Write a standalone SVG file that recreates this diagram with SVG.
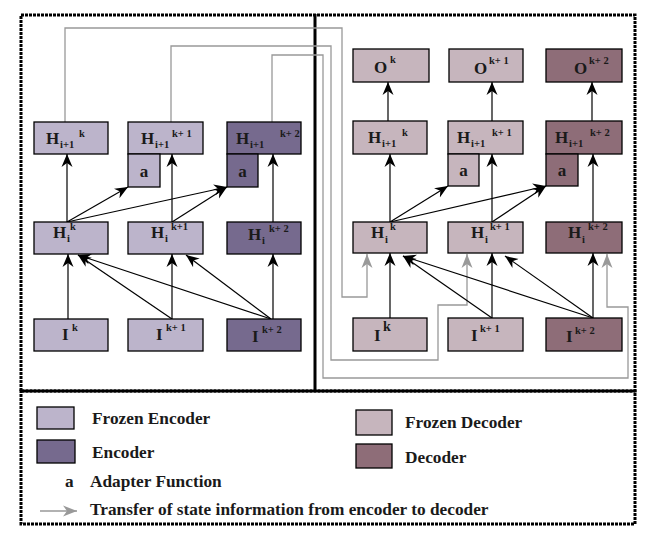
<svg xmlns="http://www.w3.org/2000/svg" width="654" height="540" viewBox="0 0 654 540">
  <defs>
    <marker id="ah" markerUnits="userSpaceOnUse" markerWidth="14" markerHeight="12" viewBox="0 0 14 12" refX="13" refY="6" orient="auto">
      <path d="M0,0.5 L13,6 L0,11.5 L4,6 Z" fill="#000"/>
    </marker>
    <marker id="ahg" markerUnits="userSpaceOnUse" markerWidth="15" markerHeight="12" viewBox="0 0 15 12" refX="14" refY="6" orient="auto">
      <path d="M0,0.5 L14,6 L0,11.5 L4,6 Z" fill="#999"/>
    </marker>
    <style>
      .fe { fill: #bcb4cb; stroke: #000; stroke-width: 1.3; }
      .en { fill: #766a8e; stroke: #000; stroke-width: 1.3; }
      .fd { fill: #c6b5bd; stroke: #000; stroke-width: 1.3; }
      .de { fill: #8e6d78; stroke: #000; stroke-width: 1.3; }
      text { font-family: "Liberation Serif", "DejaVu Serif", serif; fill: #1a1a1a; }
      .m { font-size: 17px; font-weight: bold; }
      .s { font-size: 10.5px; font-weight: bold; }
      .lg { font-size: 17.3px; font-weight: bold; }
      .arr { stroke: #000; stroke-width: 1.2; fill: none; marker-end: url(#ah); }
      .tr { stroke: #999; stroke-width: 1.3; fill: none; marker-end: url(#ahg); }
      .frame { fill: none; stroke: #000; stroke-width: 3; stroke-dasharray: 3 1; }
    </style>
  </defs>

  <rect width="654" height="540" fill="#fff"/>

  <!-- frames -->
  <rect class="frame" x="21" y="15" width="614" height="376"/>
  <rect class="frame" x="21" y="391" width="614" height="133" stroke-width="2" stroke-dasharray="4 1"/>
  <line x1="315" y1="14" x2="315" y2="391" stroke="#000" stroke-width="3"/>

  <!-- state transfer lines (encoder to decoder) -->
  <g id="transfer">
    <path class="tr" d="M65,122 V28 H342 V297 H367 V254"/>
    <path class="tr" d="M171,122 V46 H331 V360 H438 V305 H467 V254"/>
    <path class="tr" d="M272,122 V55 H323 V378 H628 V307 H607 V254"/>
  </g>

  <!-- connectors -->
  <g id="connectors">
    <!-- encoder -->
    <line class="arr" x1="68" y1="319" x2="68" y2="254"/>
    <line class="arr" x1="172" y1="319" x2="172" y2="254"/>
    <line class="arr" x1="273" y1="319" x2="273" y2="254"/>
    <line class="arr" x1="172" y1="319" x2="78" y2="255"/>
    <line class="arr" x1="271" y1="319" x2="78" y2="255"/>
    <line class="arr" x1="271" y1="319" x2="186" y2="255"/>
    <line class="arr" x1="67" y1="222" x2="67" y2="154"/>
    <line class="arr" x1="172" y1="222" x2="172" y2="154"/>
    <line class="arr" x1="273" y1="222" x2="273" y2="154"/>
    <line class="arr" x1="67" y1="222" x2="128" y2="187"/>
    <line class="arr" x1="67" y1="222" x2="227" y2="187"/>
    <line class="arr" x1="172" y1="222" x2="227" y2="187"/>
    <!-- decoder -->
    <line class="arr" x1="388" y1="121" x2="388" y2="82"/>
    <line class="arr" x1="492" y1="121" x2="492" y2="82"/>
    <line class="arr" x1="592" y1="121" x2="592" y2="82"/>
    <line class="arr" x1="390" y1="222" x2="390" y2="154"/>
    <line class="arr" x1="492" y1="222" x2="492" y2="154"/>
    <line class="arr" x1="593" y1="222" x2="593" y2="154"/>
    <line class="arr" x1="390" y1="222" x2="448" y2="186"/>
    <line class="arr" x1="390" y1="222" x2="546" y2="186"/>
    <line class="arr" x1="492" y1="222" x2="546" y2="186"/>
    <line class="arr" x1="390" y1="318" x2="390" y2="253"/>
    <line class="arr" x1="492" y1="318" x2="492" y2="253"/>
    <line class="arr" x1="593" y1="318" x2="593" y2="253"/>
    <line class="arr" x1="492" y1="318" x2="403" y2="256"/>
    <line class="arr" x1="593" y1="318" x2="403" y2="256"/>
    <line class="arr" x1="593" y1="318" x2="505" y2="256"/>
  </g>

  <!-- encoder nodes -->
  <g id="enc-h1-k"><rect class="fe" x="34" y="122" width="74" height="32"/>
    <text class="m" x="46" y="144">H</text><text class="s" x="60" y="148">i+1</text><text class="s" x="79" y="137">k</text></g>
  <g id="enc-h1-k1"><rect class="fe" x="128" y="122" width="75" height="32"/>
    <text class="m" x="141" y="144">H</text><text class="s" x="155" y="148">i+1</text><text class="s" x="172" y="137">k+ 1</text></g>
  <g id="enc-h1-k2"><rect class="en" x="227" y="122" width="74" height="32"/>
    <text class="m" x="236" y="144">H</text><text class="s" x="250" y="148">i+1</text><text class="s" x="280" y="137">k+ 2</text></g>
  <g id="enc-a-k1"><rect class="fe" x="128" y="154" width="32" height="33"/>
    <text class="m" x="144" y="177" text-anchor="middle">a</text></g>
  <g id="enc-a-k2"><rect class="en" x="227" y="154" width="31" height="33"/>
    <text class="m" x="242.5" y="177" text-anchor="middle">a</text></g>

  <g id="enc-h-k"><rect class="fe" x="34" y="222" width="74" height="32"/>
    <text class="m" x="53" y="238">H</text><text class="s" x="67" y="242">i</text><text class="s" x="70" y="230">k</text></g>
  <g id="enc-h-k1"><rect class="fe" x="128" y="222" width="75" height="32"/>
    <text class="m" x="151" y="238">H</text><text class="s" x="165" y="242">i</text><text class="s" x="171" y="230">k+1</text></g>
  <g id="enc-h-k2"><rect class="en" x="227" y="222" width="74" height="32"/>
    <text class="m" x="248" y="240">H</text><text class="s" x="262" y="244">i</text><text class="s" x="269" y="232">k+ 2</text></g>

  <g id="enc-i-k"><rect class="fe" x="34" y="319" width="74" height="32"/>
    <text class="m" x="62" y="340">I</text><text class="s" x="72" y="331">k</text></g>
  <g id="enc-i-k1"><rect class="fe" x="128" y="319" width="75" height="32"/>
    <text class="m" x="156" y="340">I</text><text class="s" x="166" y="331">k+ 1</text></g>
  <g id="enc-i-k2"><rect class="en" x="227" y="319" width="74" height="32"/>
    <text class="m" x="252" y="342">I</text><text class="s" x="262" y="333">k+ 2</text></g>

  <!-- decoder nodes -->
  <g id="dec-o-k"><rect class="fd" x="353" y="49" width="76" height="33"/>
    <text class="m" x="374" y="73">O</text><text class="s" x="390" y="63">k</text></g>
  <g id="dec-o-k1"><rect class="fd" x="449" y="49" width="74" height="33"/>
    <text class="m" x="474" y="74">O</text><text class="s" x="489" y="64">k+ 1</text></g>
  <g id="dec-o-k2"><rect class="de" x="546" y="49" width="76" height="33"/>
    <text class="m" x="574" y="74">O</text><text class="s" x="589" y="64">k+ 2</text></g>

  <g id="dec-h1-k"><rect class="fd" x="353" y="121" width="74" height="33"/>
    <text class="m" x="368" y="143">H</text><text class="s" x="382" y="147">i+1</text><text class="s" x="402" y="136">k</text></g>
  <g id="dec-h1-k1"><rect class="fd" x="448" y="121" width="75" height="33"/>
    <text class="m" x="457" y="143">H</text><text class="s" x="471" y="147">i+1</text><text class="s" x="492" y="136">k+ 1</text></g>
  <g id="dec-h1-k2"><rect class="de" x="546" y="121" width="76" height="33"/>
    <text class="m" x="555" y="143">H</text><text class="s" x="569" y="147">i+1</text><text class="s" x="590" y="136">k+ 2</text></g>
  <g id="dec-a-k1"><rect class="fd" x="448" y="154" width="31" height="32"/>
    <text class="m" x="463.5" y="176" text-anchor="middle">a</text></g>
  <g id="dec-a-k2"><rect class="de" x="546" y="154" width="32" height="32"/>
    <text class="m" x="562" y="176" text-anchor="middle">a</text></g>

  <g id="dec-h-k"><rect class="fd" x="353" y="222" width="74" height="31"/>
    <text class="m" x="371" y="238">H</text><text class="s" x="385" y="243">i</text><text class="s" x="390" y="230">k</text></g>
  <g id="dec-h-k1"><rect class="fd" x="448" y="222" width="75" height="31"/>
    <text class="m" x="471" y="238">H</text><text class="s" x="485" y="243">i</text><text class="s" x="490" y="230">k+ 1</text></g>
  <g id="dec-h-k2"><rect class="de" x="546" y="222" width="76" height="31"/>
    <text class="m" x="568" y="238">H</text><text class="s" x="582" y="243">i</text><text class="s" x="588" y="230">k+ 2</text></g>

  <g id="dec-i-k"><rect class="fd" x="353" y="318" width="74" height="33"/>
    <text class="m" x="374" y="341">I</text><text class="s" x="383" y="331" style="font-size:14px">k</text></g>
  <g id="dec-i-k1"><rect class="fd" x="448" y="318" width="75" height="33"/>
    <text class="m" x="471" y="341">I</text><text class="s" x="480" y="332">k+ 1</text></g>
  <g id="dec-i-k2"><rect class="de" x="546" y="318" width="76" height="33"/>
    <text class="m" x="566" y="342">I</text><text class="s" x="575" y="334">k+ 2</text></g>

  <!-- legend -->
  <g id="legend">
    <rect class="fe" x="37" y="407" width="37" height="22"/>
    <text class="lg" x="92" y="424">Frozen Encoder</text>
    <rect class="en" x="37" y="440" width="38" height="23"/>
    <text class="lg" x="92" y="458">Encoder</text>
    <text class="lg" x="65" y="487">a</text>
    <text class="lg" x="90" y="487">Adapter Function</text>
    <line class="tr" x1="40" y1="511" x2="77" y2="511" stroke-width="1.2"/>
    <text class="lg" x="90" y="515">Transfer of state information from encoder to decoder</text>
    <rect class="fd" x="356" y="410" width="36" height="25"/>
    <text class="lg" x="405" y="428">Frozen Decoder</text>
    <rect class="de" x="356" y="444" width="36" height="24"/>
    <text class="lg" x="405" y="463">Decoder</text>
  </g>
</svg>
